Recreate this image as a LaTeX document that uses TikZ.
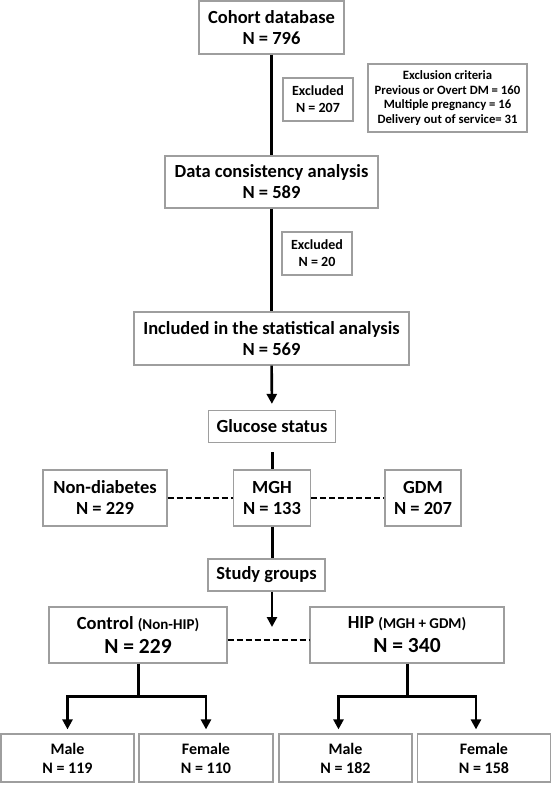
\documentclass[tikz,border=0pt]{standalone}
\usepackage{fontspec}
\setmainfont{Carlito}
\usetikzlibrary{shapes,arrows.meta,positioning}
\definecolor{framegray}{gray}{0.62}
\tikzstyle{block} = [draw=framegray,line width=1.2pt,rectangle,inner sep=0,align=center,font=\bfseries\fontsize{18.5}{21}\selectfont]
\tikzstyle{note} = [block,minimum width=70,minimum height=43,font=\bfseries\fontsize{14}{17}\selectfont]
\tikzstyle{crit} = [block,font=\bfseries\fontsize{12.7}{14.5}\selectfont]
\tikzstyle{leaf} = [block,minimum width=133,minimum height=48,font=\bfseries\fontsize{16}{19}\selectfont]
\tikzstyle{flow} = [-,line width=3pt]
\tikzstyle{split} = [-{Triangle[width=10pt,length=10pt]},line width=2.6pt]
\tikzstyle{link} = [-,line width=1.8pt,dash pattern=on 6pt off 3pt]
\def \gap {4pt}
\def \sub {\fontsize{15}{17}\selectfont}
\def \big {\fontsize{21.5}{24}\selectfont}

\begin{document}
\begin{tikzpicture}[x=1pt,y=-1pt]
  \useasboundingbox (0,0) rectangle (551,785);
  % upper spine
  \node[block,minimum width=145,minimum height=53] (cohort) at (271.5,27.5) {Cohort database\\N = 796};
  \node[note] (excl1) at (318,99.5) {Excluded\\N = 207};
  \node[crit,minimum width=159,minimum height=68] (crit) at (447.5,98) {Exclusion criteria\\Previous or Overt DM = 160\\Multiple pregnancy = 16\\Delivery out of service= 31};
  \node[block,minimum width=213,minimum height=52] (data) at (271.5,182) {Data consistency analysis\\N = 589};
  \node[note] (excl2) at (317,253.5) {Excluded\\N = 20};
  \node[block,minimum width=275,minimum height=53] (incl) at (271.5,338.5) {Included in the statistical analysis\\N = 569};
  % glucose status
  \node[block,minimum width=127,minimum height=32] (glucose) at (272,426.5) {Glucose status};
  \node[block,minimum width=124,minimum height=56] (nondia) at (105,498) {Non-diabetes\\N = 229};
  \node[block,minimum width=77,minimum height=56] (mgh) at (272,498) {MGH\\N = 133};
  \node[block,minimum width=76,minimum height=56] (gdm) at (423,498) {GDM\\N = 207};
  % study groups
  \node[block,minimum width=117,minimum height=32] (study) at (266.5,575) {Study groups};
  \coordinate (fork) at (272,627);
  \node[block,minimum width=178,minimum height=56] (control) at (138,635) {Control {\sub(Non-HIP)}\\[3pt]{\big N = 229}};
  \node[block,minimum width=194,minimum height=56] (hip) at (407,635) {HIP {\sub(MGH + GDM)}\\[3pt]{\big N = 340}};
  \node[leaf] (male1) at (67.5,758) {Male\\N = 119};
  \node[leaf,minimum width=134] (female1) at (206,758) {Female\\N = 110};
  \node[leaf] (male2) at (345.5,758) {Male\\N = 182};
  \node[leaf] (female2) at (484,758) {Female\\N = 158};

  \draw[flow] (cohort) -- (data);
  \draw[flow] (data) -- (incl);
  \draw[split,shorten >=6pt] (incl) -- (glucose);
  \draw[flow,shorten <=9pt] (glucose) -- (mgh);
  \draw[link] (nondia) -- (mgh);
  \draw[link] (mgh) -- (gdm);
  \draw[flow] (mgh.south) -- (mgh.south |- study.north);
  \draw[split] (mgh.south |- study.south) -- (fork);
  \draw[link] ([yshift=-5pt]control.east) -- ([yshift=-5pt]control.east -| hip.west);
  % sex split
  \draw[flow] (control.south) -- ++(0,33) coordinate (ctrlfork);
  \draw[split,shorten >=\gap] (ctrlfork) -| (male1.north);
  \draw[split,shorten >=\gap] (ctrlfork) -| (female1.north);
  \draw[flow] (hip.south) -- ++(0,33) coordinate (hipfork);
  \draw[split,shorten >=\gap] (hipfork) -| ([xshift=-7pt]male2.north);
  \draw[split,shorten >=\gap] (hipfork) -| ([xshift=-8pt]female2.north);
\end{tikzpicture}
\end{document}
